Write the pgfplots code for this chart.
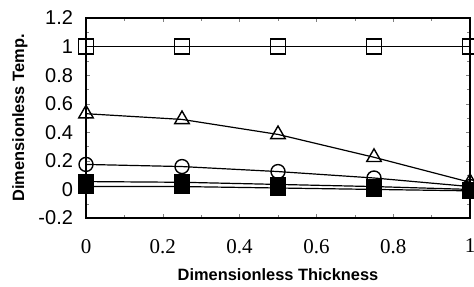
\documentclass[border=0pt]{standalone}
\usepackage{fontspec}
\setmainfont{Liberation Serif}
\newfontfamily\lsans{Liberation Sans}
\usepackage{pgfplots}
\pgfplotsset{compat=1.18}
\begin{document}
\begin{tikzpicture}
\begin{axis}[
  scale only axis,
  width=192pt, height=100pt,
  xmin=0, xmax=1, ymin=-0.2, ymax=1.2,
  xtick={0,0.2,0.4,0.6,0.8,1},
  ytick={-0.2,0,0.2,0.4,0.6,0.8,1,1.2},
  minor x tick num=1,
  minor y tick num=1,
  tick align=inside,
  major tick length=2pt, minor tick length=1.5pt,
  /pgf/number format/assume math mode=true,
  xticklabel style={font=\fontsize{10.5}{11}\selectfont, yshift=-7pt},
  yticklabel style={font=\lsans\fontsize{10}{11}\selectfont, xshift=-3pt},
  axis line style={line width=0.8pt},
  xlabel={\lsans\bfseries Dimensionless Thickness},
  ylabel={\lsans\bfseries Dimensionless Temp.},
  label style={font=\fontsize{8.2}{9}\selectfont},
  xlabel style={at={(axis description cs:0.5,0)}, anchor=center, yshift=-28.5pt},
  ylabel style={at={(axis description cs:0,0.5)}, anchor=center, yshift=33pt},
  every axis plot/.append style={black, line width=0.6pt},
  clip=false,
]
\coordinate (bl) at (rel axis cs:0,0);
\coordinate (tr) at (rel axis cs:1,1);
\addplot[mark=square, mark size=3.8pt, mark options={fill=white, line width=0.7pt}] coordinates {(0,1.0) (0.25,1.0) (0.5,1.0) (0.75,1.0) (1,1.0)};
\addplot[mark=triangle, mark size=4.2pt, mark options={fill=white, line width=0.7pt}] coordinates {(0,0.53) (0.25,0.49) (0.5,0.385) (0.75,0.225) (1,0.05)};
\addplot[mark=o, mark size=3.5pt, mark options={fill=white, line width=0.7pt}] coordinates {(0,0.175) (0.25,0.16) (0.5,0.125) (0.75,0.08) (1,0.02)};
\addplot[mark=square*, mark size=3.6pt] coordinates {(0,0.055) (0.25,0.05) (0.5,0.035) (0.75,0.02) (1,0.0)};
\addplot[mark=square*, mark size=3.6pt] coordinates {(0,0.02) (0.25,0.02) (0.5,0.01) (0.75,0.0) (1,-0.01)};
\end{axis}
\pgfresetboundingbox
\path[use as bounding box] ([shift={(-43pt,-34.5pt)}]bl) rectangle ([shift={(2pt,9pt)}]tr);
\end{tikzpicture}
\end{document}
